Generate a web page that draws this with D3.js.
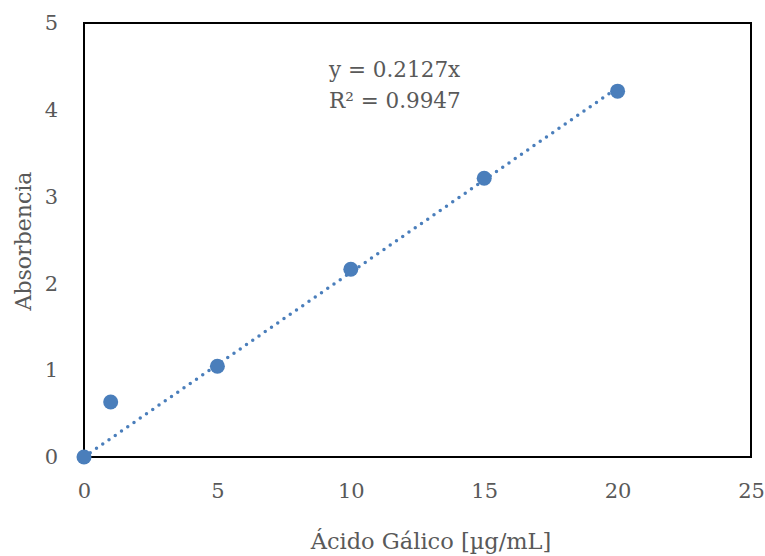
<!DOCTYPE html>
<html><head><meta charset="utf-8">
<script src="https://cdn.jsdelivr.net/npm/d3@7"></script>
<style>body{margin:0;background:#fff}</style>
</head><body>
<svg id="c" width="765" height="556"></svg>
<script>
const xValues = [0, 1, 5, 10, 15, 20];
const yValues = [0, 0.634, 1.045, 2.163, 3.212, 4.215];
const xTicks = [0, 5, 10, 15, 20, 25];
const yTicks = [0, 1, 2, 3, 4, 5];
const slope = 0.2127;
const trendRange = [0, 20];
const eqLines = ["y = 0.2127x", "R² = 0.9947"];
const xTitle = "Ácido Gálico [µg/mL]";
const yTitle = "Absorbencia";

const svg = d3.select("#c");
const font = "'DejaVu Serif', serif";
const gray = "#595959";
const blue = "#4a7ebb";
const x = d3.scaleLinear().domain([0, 25]).range([84, 751]);
const y = d3.scaleLinear().domain([0, 5]).range([457, 23]);

// axes (labels only)
const xa = svg.append("g").attr("transform", "translate(0,457)")
  .call(d3.axisBottom(x).tickValues(xTicks).tickFormat(d3.format("d")).tickSize(0).tickPadding(26));
xa.select(".domain").remove();
xa.selectAll("text").attr("font-family", font).attr("font-size", 21).attr("fill", gray);
const ya = svg.append("g").attr("transform", "translate(84,0)")
  .call(d3.axisLeft(y).tickValues(yTicks).tickFormat(d3.format("d")).tickSize(0).tickPadding(26));
ya.select(".domain").remove();
ya.selectAll("text").attr("font-family", font).attr("font-size", 21).attr("fill", gray);

// plot border
svg.append("rect").attr("x", x(0)).attr("y", y(5))
  .attr("width", x(25) - x(0)).attr("height", y(0) - y(5))
  .attr("fill", "none").attr("stroke", "#000").attr("stroke-width", 2);

// trendline
svg.append("line")
  .attr("x1", x(trendRange[0])).attr("y1", y(slope * trendRange[0]))
  .attr("x2", x(trendRange[1])).attr("y2", y(slope * trendRange[1]))
  .attr("stroke", blue).attr("stroke-width", 3.5)
  .attr("stroke-dasharray", "0 7.6").attr("stroke-linecap", "round");

// points
svg.selectAll("circle.pt").data(xValues).enter().append("circle")
  .attr("class", "pt")
  .attr("cx", (d) => x(d)).attr("cy", (d, i) => y(yValues[i]))
  .attr("r", 7.5).attr("fill", blue);

// equation
const eq = svg.append("text").attr("font-family", font).attr("font-size", 21.5).attr("fill", gray);
eq.append("tspan").attr("x", 329).attr("y", 77).text(eqLines[0]);
eq.append("tspan").attr("x", 329).attr("y", 108).text(eqLines[1]);

// titles
svg.append("text").attr("x", 431).attr("y", 549).attr("text-anchor", "middle")
  .attr("font-family", font).attr("font-size", 22.5).attr("fill", gray).text(xTitle);
svg.append("text").attr("transform", "translate(31,241) rotate(-90)").attr("text-anchor", "middle")
  .attr("font-family", font).attr("font-size", 22).attr("fill", gray).text(yTitle);
</script>
</body></html>
